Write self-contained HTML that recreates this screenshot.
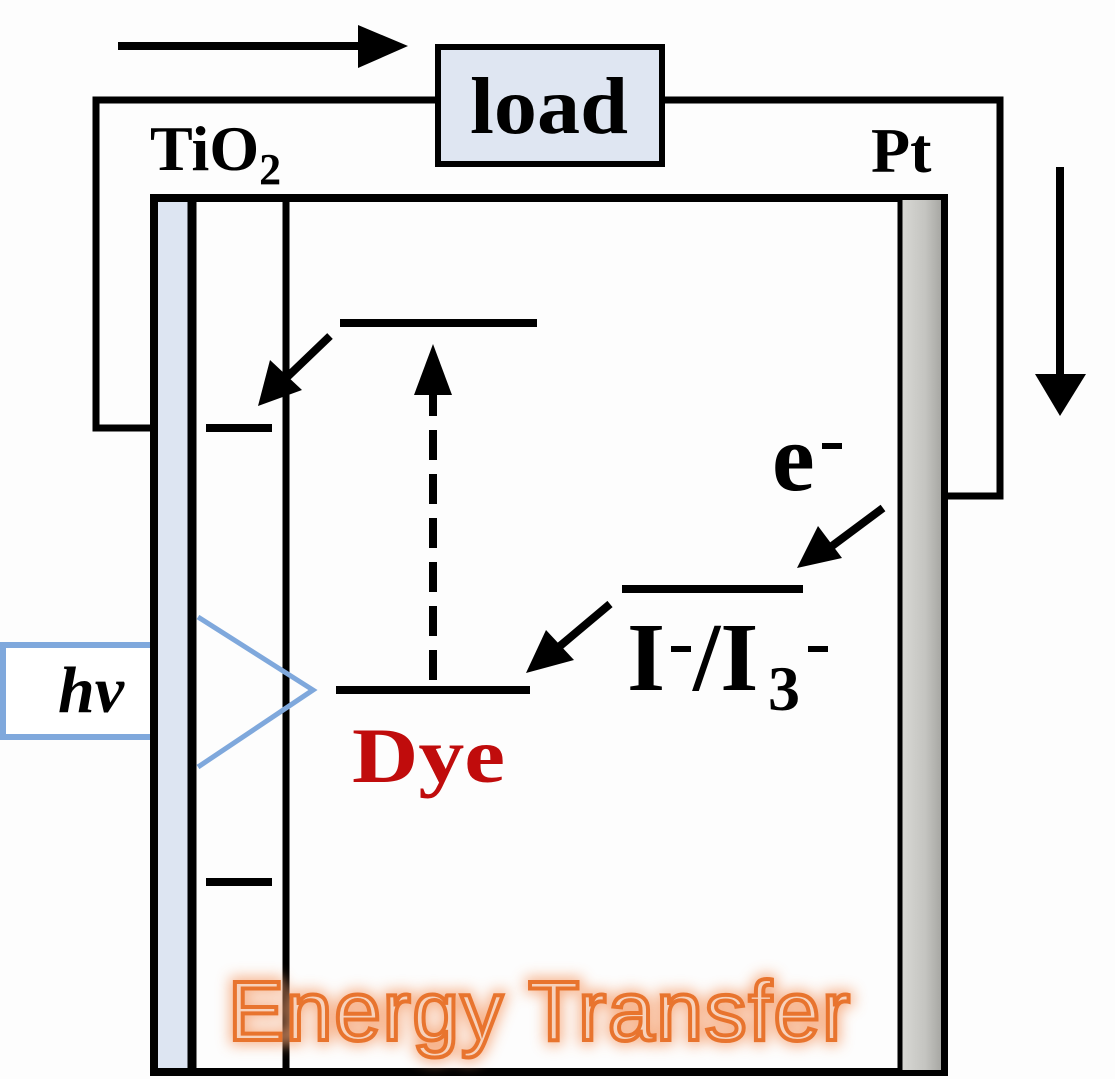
<!DOCTYPE html>
<html><head><meta charset="utf-8"><style>
html,body{margin:0;padding:0;background:#fdfdfd;}
svg{display:block}
</style></head><body>
<svg width="1115" height="1079" viewBox="0 0 1115 1079" xmlns="http://www.w3.org/2000/svg">
<defs>
<linearGradient id="pt" x1="0" x2="1"><stop offset="0" stop-color="#d8d8d4"/><stop offset="0.6" stop-color="#c4c4c0"/><stop offset="1" stop-color="#a8a8a4"/></linearGradient>
<filter id="glow" x="-10%" y="-30%" width="120%" height="160%"><feGaussianBlur stdDeviation="7"/></filter>
</defs>
<rect width="1115" height="1079" fill="#fdfdfd"/>
<line x1="118" y1="46" x2="375" y2="46" stroke="#000" stroke-width="8"/>
<polygon points="358,25 408,46 358,68" fill="#000"/>
<polyline points="150,428 96,428 96,100 440,100" fill="none" stroke="#000" stroke-width="7"/>
<polyline points="660,100 1000,100 1000,496 946,496" fill="none" stroke="#000" stroke-width="7"/>
<rect x="438" y="47" width="224" height="117" fill="#dfe6f2" stroke="#000" stroke-width="6"/>
<text x="470" y="133" font-family="Liberation Serif,serif" font-weight="bold" font-size="80" textLength="158" lengthAdjust="spacingAndGlyphs">load</text>
<line x1="1060" y1="167" x2="1060" y2="380" stroke="#000" stroke-width="8"/>
<polygon points="1035,374 1086,374 1060,416" fill="#000"/>
<text x="150" y="170" font-family="Liberation Serif,serif" font-weight="bold" font-size="64">TiO<tspan font-size="44" dy="14">2</tspan></text>
<text x="871" y="172" font-family="Liberation Serif,serif" font-weight="bold" font-size="64">Pt</text>
<rect x="3" y="645" width="150" height="92" fill="#fff" stroke="#7fa8dc" stroke-width="6"/>
<text x="58" y="712" font-family="Liberation Serif,serif" font-style="italic" font-weight="bold" font-size="66">hν</text>
<rect x="158" y="202" width="30" height="866" fill="#dde5f2"/>
<rect x="154" y="198" width="790" height="874" fill="none" stroke="#000" stroke-width="8"/>
<line x1="192" y1="198" x2="192" y2="1072" stroke="#000" stroke-width="9"/>
<line x1="286" y1="198" x2="286" y2="1072" stroke="#000" stroke-width="7"/>
<rect x="902" y="200" width="39" height="870" fill="url(#pt)"/>
<line x1="900" y1="198" x2="900" y2="1072" stroke="#000" stroke-width="5"/>
<g stroke="#000" stroke-width="8">
<line x1="206" y1="428" x2="272" y2="428"/>
<line x1="206" y1="882" x2="272" y2="882"/>
<line x1="340" y1="323" x2="537" y2="323"/>
<line x1="336" y1="690" x2="530" y2="690"/>
<line x1="622" y1="589" x2="803" y2="589"/>
<line x1="330" y1="336" x2="282" y2="382"/>
<line x1="883" y1="508" x2="832" y2="546"/>
<line x1="610" y1="604" x2="560" y2="646"/>
<line x1="433" y1="680" x2="433" y2="390" stroke-dasharray="30,14"/>
</g>
<polygon points="258,406 270,360 302,390" fill="#000"/>
<polygon points="797,568 818,526 842,558" fill="#000"/>
<polygon points="526,673 546,630 574,660" fill="#000"/>
<polygon points="414,395 433,344 452,395" fill="#000"/>
<polyline points="198,617 313,690 198,767" fill="none" stroke="#7fa8dc" stroke-width="5"/>
<text x="772" y="490" font-family="Liberation Serif,serif" font-weight="bold" font-size="96">e</text>
<rect x="822" y="443" width="20" height="6" fill="#000"/>
<text x="627" y="690" font-family="Liberation Serif,serif" font-weight="bold" font-size="98">I</text>
<rect x="671" y="646" width="20" height="6" fill="#000"/>
<text x="693" y="690" font-family="Liberation Serif,serif" font-weight="bold" font-size="98">/I</text>
<text x="768" y="710" font-family="Liberation Serif,serif" font-weight="bold" font-size="64">3</text>
<rect x="808" y="646" width="20" height="6" fill="#000"/>
<text x="352" y="782" font-family="Liberation Serif,serif" font-weight="bold" font-size="78" fill="#c00c0c" textLength="153" lengthAdjust="spacingAndGlyphs">Dye</text>
<text x="228" y="1040" font-family="Liberation Sans,sans-serif" font-size="84" fill="#f5a070" stroke="#f5a070" stroke-width="10" filter="url(#glow)" opacity="0.8" textLength="622">Energy Transfer</text>
<text x="228" y="1040" font-family="Liberation Sans,sans-serif" font-size="84" fill="#f7d2bc" stroke="#e8742e" stroke-width="4" textLength="622">Energy Transfer</text>
</svg>
</body></html>
